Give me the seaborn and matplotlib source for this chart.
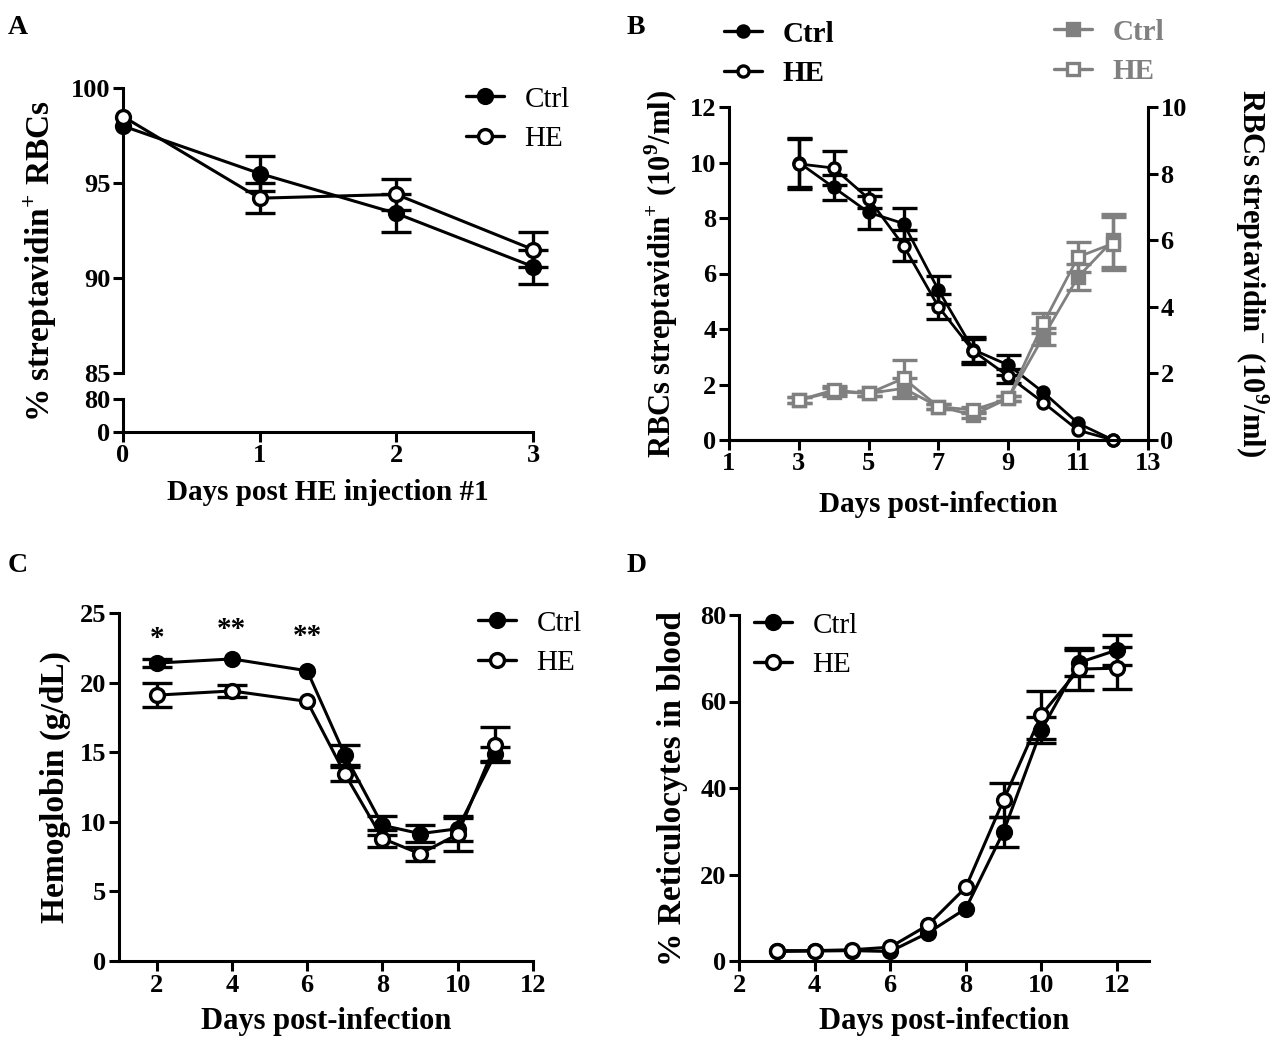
import numpy as np
import matplotlib; matplotlib.use("Agg")
import matplotlib.pyplot as plt
import seaborn as sns

sns.set_style("ticks")
plt.rcParams["font.family"] = ["Liberation Serif", "DejaVu Serif"]
plt.rcParams["font.weight"] = "bold"
plt.rcParams["mathtext.fontset"] = "custom"
plt.rcParams["mathtext.rm"] = "Liberation Serif:bold"
plt.rcParams["mathtext.bf"] = "Liberation Serif:bold"
for k in ["text.color", "axes.labelcolor", "xtick.color", "ytick.color", "axes.edgecolor"]:
    plt.rcParams[k] = "black"

# ---- data ----
# A: % streptavidin+ RBCs
a_days = [0, 1, 2, 3]
a_ctrl = [98.0, 95.5, 93.4, 90.6]
a_ctrl_err = [0.0, 0.9, 1.0, 0.9]
a_he = [98.5, 94.2, 94.4, 91.5]
a_he_err = [0.0, 0.8, 0.8, 0.9]

# B: RBC counts (left: streptavidin+, right: streptavidin-)
b_days = [3, 4, 5, 6, 7, 8, 9, 10, 11, 12]
b_pos_ctrl = [10.0, 9.1, 8.2, 7.8, 5.4, 3.25, 2.7, 1.72, 0.6, 0.0]
b_pos_ctrl_err = [0.9, 0.45, 0.6, 0.55, 0.5, 0.45, 0.35, 0.0, 0.0, 0.0]
b_pos_he = [9.95, 9.8, 8.7, 7.0, 4.8, 3.2, 2.3, 1.35, 0.35, 0.0]
b_pos_he_err = [0.9, 0.6, 0.35, 0.55, 0.45, 0.45, 0.25, 0.0, 0.0, 0.0]
b_neg_ctrl = [1.2, 1.45, 1.4, 1.55, 1.0, 0.75, 1.25, 3.1, 4.9, 6.0]
b_neg_ctrl_err = [0.08, 0.12, 0.08, 0.3, 0.08, 0.1, 0.08, 0.25, 0.4, 0.8]
b_neg_he = [1.2, 1.5, 1.4, 1.85, 1.0, 0.9, 1.25, 3.5, 5.5, 5.9]
b_neg_he_err = [0.08, 0.12, 0.08, 0.55, 0.08, 0.08, 0.08, 0.3, 0.45, 0.8]

# C: hemoglobin
c_days = [2, 4, 6, 7, 8, 9, 10, 11]
c_ctrl = [21.4, 21.7, 20.85, 14.8, 9.75, 9.15, 9.5, 14.9]
c_ctrl_err = [0.3, 0.0, 0.0, 0.7, 0.7, 0.6, 0.9, 0.5]
c_he = [19.1, 19.4, 18.65, 13.45, 8.8, 7.7, 9.1, 15.55]
c_he_err = [0.85, 0.4, 0.0, 0.5, 0.6, 0.5, 1.2, 1.25]
c_stars = ["*", "**", "**"]
c_star_days = [2, 4, 6]
c_star_y = [23.2, 23.8, 23.3]

# D: % reticulocytes
d_days = [3, 4, 5, 6, 7, 8, 9, 10, 11, 12]
d_ctrl = [2.2, 2.3, 2.4, 2.2, 6.5, 12.1, 29.9, 53.4, 69.0, 71.9]
d_ctrl_err = [0.0, 0.0, 0.0, 0.0, 0.0, 0.0, 3.5, 3.0, 3.0, 3.5]
d_he = [2.4, 2.4, 2.6, 3.2, 8.3, 17.0, 37.2, 56.9, 67.5, 67.7]
d_he_err = [0.0, 0.0, 0.0, 0.0, 0.0, 0.0, 4.0, 5.5, 4.8, 4.8]

BLACK = "black"
GRAY = "#808080"
LW = 2.2
TICK_FS = 19
LEG_FS = 21

fig = plt.figure(figsize=(12.7, 10.42), dpi=100)
W, H = 1270, 1042


def px_axes(l, t, r, b):
    return fig.add_axes([l / W, (H - b) / H, (r - l) / W, (b - t) / H])


def series(ax, x, y, err, color, marker, filled, ms=10, lw=2.2, cap=11):
    x, y, err = np.asarray(x), np.asarray(y), np.asarray(err)
    m = err > 0  # no bar drawn where SEM is hidden behind the symbol
    ax.errorbar(x[m], y[m], yerr=err[m], fmt="none", ecolor=color, elinewidth=2.4,
                capsize=cap, capthick=2.4, clip_on=False, zorder=2)
    sns.lineplot(x=x, y=y, ax=ax, color=color, linewidth=lw, marker=marker,
                 markersize=ms, markerfacecolor=color if filled else "white",
                 markeredgecolor=color, markeredgewidth=2.4, clip_on=False,
                 zorder=3, legend=False)


def style_axis(ax):
    for s in ["top", "right"]:
        ax.spines[s].set_visible(False)
    for s in ["left", "bottom", "right"]:
        ax.spines[s].set_linewidth(LW)
    ax.tick_params(width=LW, length=7, labelsize=TICK_FS, direction="out", pad=2)
    for t in ax.get_xticklabels() + ax.get_yticklabels():
        t.set_fontweight("bold")


def place_xlabel(ax, text, size, cy, box):
    l, t, r, b = box
    ax.set_xlabel(text, fontsize=size, fontweight="bold", va="center")
    ax.xaxis.set_label_coords(0.5, (b - cy) / (b - t))


def place_ylabel(ax, text, size, cx, box, rot=90):
    l, t, r, b = box
    ax.set_ylabel(text, fontsize=size, fontweight="bold", rotation=rot,
                  va="center", ha="center")
    ax.yaxis.set_label_coords((cx - l) / (r - l), 0.5)


def add_legend(items, labels, x, y, weight="normal", color=None, ms=10):
    hs = []
    for col, marker, filled in items:
        h, = plt.plot([], [], color=col, marker=marker, markersize=ms, linewidth=2.4,
                      markerfacecolor=col if filled else "white",
                      markeredgecolor=col, markeredgewidth=2.4)
        hs.append(h)
    leg = fig.legend(hs, labels, loc="center left", bbox_to_anchor=(x / W, (H - y) / H),
                     frameon=False, prop={"size": LEG_FS, "weight": weight},
                     handlelength=1.3, handletextpad=0.7, borderpad=0, borderaxespad=0,
                     labelspacing=0.44)
    if color is not None:
        for t in leg.get_texts():
            t.set_color(color)
    return leg


# ---- panel A (broken axis) ----
boxA = (123, 88, 533, 373)
boxA2 = (123, 399, 533, 432)
axA = px_axes(*boxA)
axA2 = px_axes(*boxA2)
series(axA, a_days, a_ctrl, a_ctrl_err, BLACK, "o", True)
series(axA, a_days, a_he, a_he_err, BLACK, "o", False)
axA.set_xlim(0, 3)
axA.set_ylim(85, 100)
axA.set_yticks([85, 90, 95, 100])
axA.set_xticks([])
style_axis(axA)
axA.spines["bottom"].set_visible(False)
axA2.set_xlim(0, 3)
axA2.set_ylim(0, 80)
axA2.set_yticks([0, 80])
axA2.set_xticks(a_days)
style_axis(axA2)
place_xlabel(axA2, "Days post HE injection #1", 21, 492, boxA2)
fig.text(40 / W, (H - 261) / H, r"% streptavidin$^{+}$ RBCs", rotation=90,
         ha="center", va="center", fontsize=24, fontweight="bold")
add_legend([(BLACK, "o", True), (BLACK, "o", False)], ["Ctrl", "HE"], 466, 119)

# ---- panel B (dual axis) ----
boxB = (729, 107, 1148, 440)
axB = px_axes(*boxB)
axBr = axB.twinx()
series(axB, b_days, b_pos_ctrl, b_pos_ctrl_err, BLACK, "o", True, ms=8, lw=2.0, cap=9)
series(axB, b_days, b_pos_he, b_pos_he_err, BLACK, "o", False, ms=8, lw=2.0, cap=9)
series(axBr, b_days, b_neg_ctrl, b_neg_ctrl_err, GRAY, "s", True, ms=8, lw=2.0, cap=9)
series(axBr, b_days, b_neg_he, b_neg_he_err, GRAY, "s", False, ms=8, lw=2.0, cap=9)
axB.set_xlim(1, 13)
axB.set_xticks(range(1, 14, 2))
axB.set_ylim(0, 12)
axB.set_yticks(range(0, 13, 2))
axBr.set_ylim(0, 10)
axBr.set_yticks(range(0, 11, 2))
style_axis(axB)
style_axis(axBr)
axBr.spines["right"].set_visible(True)
axBr.spines["left"].set_visible(False)
place_xlabel(axB, "Days post-infection", 21, 505, boxB)
place_ylabel(axB, r"RBCs streptavidin$^{+}$ (10$^{9}$/ml)", 22, 661, boxB)
place_ylabel(axBr, r"RBCs streptavidin$^{-}$ (10$^{9}$/ml)", 22, 1252, boxB, rot=270)
add_legend([(BLACK, "o", True), (BLACK, "o", False)], ["Ctrl", "HE"], 724, 54,
           weight="bold", ms=8)
add_legend([(GRAY, "s", True), (GRAY, "s", False)], ["Ctrl", "HE"], 1054, 52,
           weight="bold", color=GRAY, ms=8)

# ---- panel C ----
boxC = (119, 613, 533, 961)
axC = px_axes(*boxC)
series(axC, c_days, c_ctrl, c_ctrl_err, BLACK, "o", True)
series(axC, c_days, c_he, c_he_err, BLACK, "o", False)
for d, s, yv in zip(c_star_days, c_stars, c_star_y):
    axC.text(d, yv, s, ha="center", va="center", fontsize=21, fontweight="bold")
axC.set_xlim(1, 12)
axC.set_xticks(range(2, 13, 2))
axC.set_ylim(0, 25)
axC.set_yticks(range(0, 26, 5))
style_axis(axC)
place_xlabel(axC, "Days post-infection", 22, 1022, boxC)
place_ylabel(axC, "Hemoglobin (g/dL)", 24, 55, boxC)
add_legend([(BLACK, "o", True), (BLACK, "o", False)], ["Ctrl", "HE"], 478, 643)

# ---- panel D ----
boxD = (739, 615, 1149, 961)
axD = px_axes(*boxD)
series(axD, d_days, d_ctrl, d_ctrl_err, BLACK, "o", True)
series(axD, d_days, d_he, d_he_err, BLACK, "o", False)
axD.set_xlim(2, 12.85)
axD.set_xticks(range(2, 13, 2))
axD.set_ylim(0, 80)
axD.set_yticks(range(0, 81, 20))
style_axis(axD)
place_xlabel(axD, "Days post-infection", 22, 1022, boxD)
place_ylabel(axD, "% Reticulocytes in blood", 24, 672, boxD)
add_legend([(BLACK, "o", True), (BLACK, "o", False)], ["Ctrl", "HE"], 754, 645)

# panel letters
for lbl, x, y in [("A", 8, 28), ("B", 627, 28), ("C", 8, 565), ("D", 627, 565)]:
    fig.text(x / W, (H - y) / H, lbl, fontsize=20, fontweight="bold", va="center")

fig.savefig("out.png", dpi=100)
